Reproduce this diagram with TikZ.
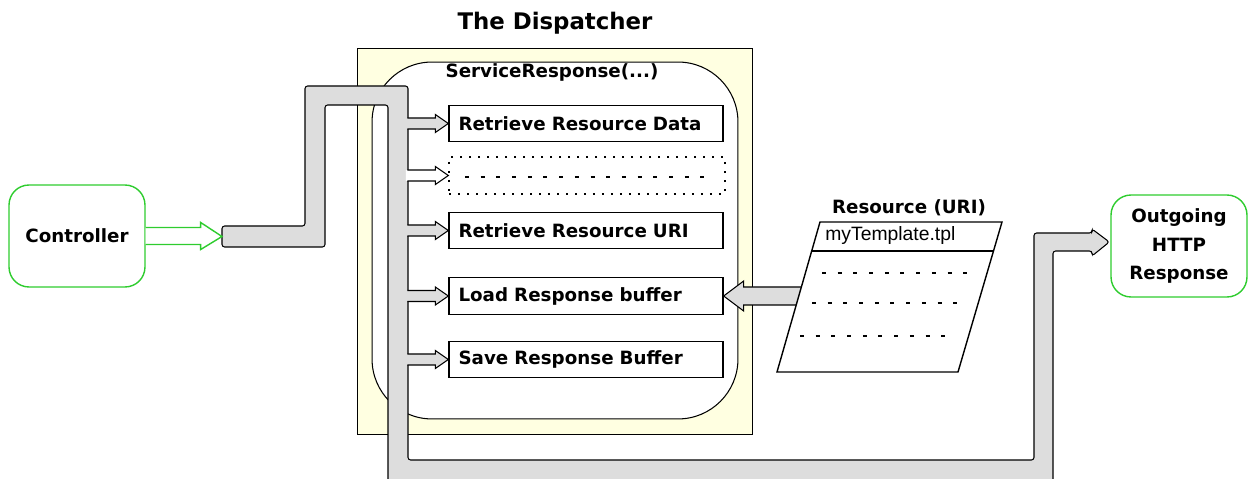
\documentclass[tikz,border=0pt]{standalone}
\usepackage{fontspec}
\setmainfont{DejaVu Sans}
\newfontfamily\arialfont{Liberation Sans}
\usepackage{tikz}
\usetikzlibrary{calc}
\definecolor{dpjaune}{HTML}{FFFFE1}
\definecolor{dpgris}{HTML}{DDDDDD}
\definecolor{dpvert}{HTML}{2ECC2E}

\begin{document}
\begin{tikzpicture}[x=0.02cm,y=-0.02cm,
  lbl/.style={font=\fontsize{10.4}{16}\selectfont\bfseries},
  stepbox/.style={draw,line width=0.8pt,fill=white,minimum height=0.73cm,
    text width=5.1cm,inner xsep=0.19cm,align=left,lbl},
  ends/.style={draw=dpvert,line width=0.8pt,rounded corners=0.4cm,
    minimum width=2.72cm,minimum height=2.04cm,align=center,lbl},
  pipe/.style={fill=dpgris,draw,line width=0.6pt},
  dotrow/.style={line width=1.4pt,dash pattern=on 0.08cm off 0.234cm}]
  \useasboundingbox (0,0) rectangle (1251,479);
  \clip (0,0) rectangle (1251,479);
  % dispatcher frame
  \node[draw,fill=dpjaune,line width=0.6pt,minimum width=7.92cm,minimum height=7.74cm] (disp) at (555,241.5) {};
  \node[draw,fill=white,line width=0.6pt,rounded corners=1.2cm,minimum width=7.32cm,minimum height=7.14cm] (svcbox) at (555,240.5) {};
  \node[font=\fontsize{13}{15}\selectfont\bfseries] (title) at (555,23) {The Dispatcher};
  \node[lbl] (svc) at (552,72) {ServiceResponse(...)};
  % end points
  \node[ends] (ctrl) at (77,236) {Controller};
  \node[ends] (out) at (1179,246) {Outgoing\\HTTP\\Response};
  \coordinate (pin) at (222,236.5);
  % main pipe
  \draw[pipe,rounded corners=1.5pt] ($(pin)+(0,-10.5)$) -- (305,226) -- (305,86) -- (408,86)
    -- (408,460) -- (1034,460) -- (1034,233) -- (1092,233) -- (1092,229)
    -- ($(out.west)+(-1,-4)$) -- (1092,256) -- (1092,251) -- (1053,251) -- (1053,490)
    -- (388,490) -- (388,105) -- (325,105) -- (325,247) -- ($(pin)+(0,10.5)$) -- cycle;
  \draw[dpvert,line width=0.8pt,fill=white] ($(ctrl.east)+(0,-8.5)$) -- ++(55,0) -- ++(0,-5)
    -- (pin) -- ($(ctrl.east)+(55,13.5)$) -- ++(0,-5) -- ($(ctrl.east)+(0,8.5)$);
  % steps
  \node[stepbox] (retdata) at (586,123.5) {Retrieve Resource Data};
  \node[stepbox,dash pattern=on 0.04cm off 0.14cm,text width=5.14cm,minimum height=0.74cm] (etc) at (587,175.5) {};
  \node[stepbox] (returi) at (586,230.5) {Retrieve Resource URI};
  \node[stepbox] (load) at (586,296) {Load Response buffer};
  \node[stepbox] (save) at (586,359.5) {Save Response Buffer};
  \draw[dotrow] (465,177) -- (705,177);
  \foreach \n/\f in {retdata/dpgris,etc/white,returi/dpgris,load/dpgris,save/dpgris}{
    \fill[\f] ($(\n.west)+(-42.5,-5.5)$) -- ($(\n.west)+(-13,-5.5)$) -- ++(0,-3.5) -- (\n.west)
      -- ($(\n.west)+(-13,9)$) -- ++(0,-3.5) -- ($(\n.west)+(-42.5,5.5)$) -- cycle;
    \draw[line width=0.6pt] ($(\n.west)+(-41,-5.5)$) -- ($(\n.west)+(-13,-5.5)$) -- ++(0,-3.5) -- (\n.west)
      -- ($(\n.west)+(-13,9)$) -- ++(0,-3.5) -- ($(\n.west)+(-41,5.5)$);
  }
  % resource
  \draw[pipe] ($(load.east)+(85,-9)$) -- ($(load.east)+(20,-9)$) -- ++(0,-6) -- (load.east)
    -- ($(load.east)+(20,15)$) -- ++(0,-6) -- ($(load.east)+(85,9)$) -- cycle;
  \coordinate (rtl) at (820,222);
  \coordinate (rtr) at (1002,222);
  \coordinate (rbr) at (958,372);
  \coordinate (rbl) at (777,372);
  \draw[fill=white,line width=0.8pt] (rtl) -- (rtr) -- (rbr) -- (rbl) -- cycle;
  \draw[line width=0.8pt] ($(rtl)!0.193!(rbl)$) -- ($(rtr)!0.193!(rbr)$);
  \node[lbl] (restitle) at (909,208) {Resource (URI)};
  \node[font=\arialfont\fontsize{11}{13}\selectfont,anchor=west,inner sep=0] (tpl) at (825,236) {myTemplate.tpl};
  \draw[dotrow] (822,273) -- (970,273);
  \draw[dotrow] (812,303) -- (960,303);
  \draw[dotrow] (800,336) -- (948,336);
\end{tikzpicture}
\end{document}
